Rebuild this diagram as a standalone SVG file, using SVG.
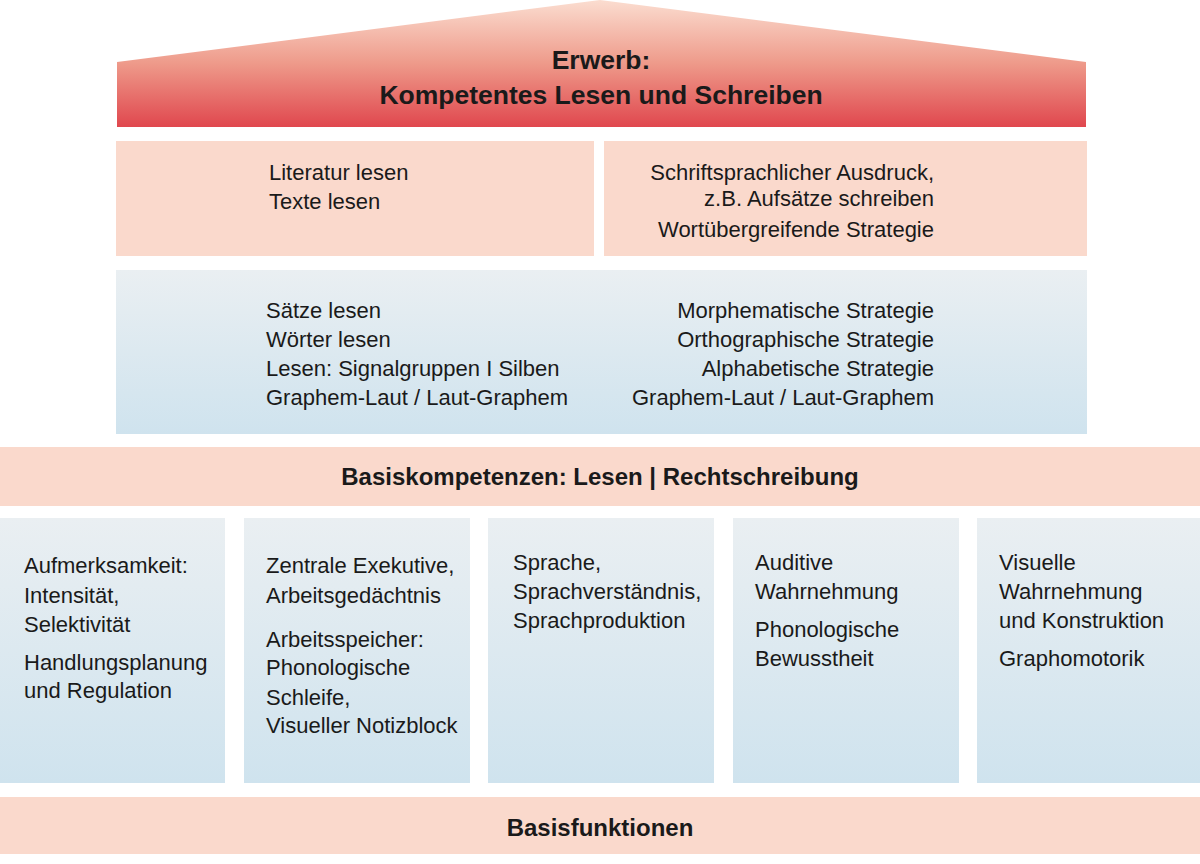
<svg xmlns="http://www.w3.org/2000/svg" width="1200" height="864" viewBox="0 0 1200 864">
<defs>
<linearGradient id="roofGrad" x1="0" y1="0" x2="0" y2="1">
<stop offset="0" stop-color="#FBDDD0"/>
<stop offset="0.5" stop-color="#EE9A8A"/>
<stop offset="1" stop-color="#E0474E"/>
</linearGradient>
<linearGradient id="blueGrad" x1="0" y1="0" x2="0" y2="1">
<stop offset="0" stop-color="#EAEFF2"/>
<stop offset="1" stop-color="#CFE3EE"/>
</linearGradient>
<style>
.peach{fill:#FAD9CC}
.blue{fill:url(#blueGrad)}
text{font-family:"Liberation Sans","Arial",sans-serif;fill:#1a1a1a}
.t{font-size:22px}
.r{text-anchor:end}
.h{font-size:24px;font-weight:bold;text-anchor:middle}
.title{font-size:26.5px;font-weight:bold;text-anchor:middle}
</style>
</defs>
<rect width="1200" height="864" fill="#ffffff"/>
<g id="roof">
<polygon points="117,62 600,0 1086,62 1086,127 117,127" fill="url(#roofGrad)"/>
<text class="title" x="601" y="69">Erwerb:</text>
<text class="title" x="601" y="104">Kompetentes Lesen und Schreiben</text>
</g>
<g id="lesen-oben">
<rect class="peach" x="116" y="141" width="478" height="115"/>
<text class="t" x="269" y="180">Literatur lesen</text>
<text class="t" x="269" y="209">Texte lesen</text>
</g>
<g id="schreiben-oben">
<rect class="peach" x="604" y="141" width="483" height="115"/>
<text class="t r" x="934" y="180">Schriftsprachlicher Ausdruck,</text>
<text class="t r" x="934" y="206">z.B. Aufsätze schreiben</text>
<text class="t r" x="934" y="237">Wortübergreifende Strategie</text>
</g>
<g id="strategien">
<rect class="blue" x="116" y="270" width="971" height="164"/>
<text class="t" x="266" y="318">Sätze lesen</text>
<text class="t" x="266" y="347">Wörter lesen</text>
<text class="t" x="266" y="376">Lesen: Signalgruppen I Silben</text>
<text class="t" x="266" y="405">Graphem-Laut / Laut-Graphem</text>
<text class="t r" x="934" y="318">Morphematische Strategie</text>
<text class="t r" x="934" y="347">Orthographische Strategie</text>
<text class="t r" x="934" y="376">Alphabetische Strategie</text>
<text class="t r" x="934" y="405">Graphem-Laut / Laut-Graphem</text>
</g>
<g id="basiskompetenzen">
<rect class="peach" x="0" y="447" width="1200" height="59"/>
<text class="h" x="600" y="485">Basiskompetenzen: Lesen | Rechtschreibung</text>
</g>
<g id="aufmerksamkeit">
<rect class="blue" x="0" y="518" width="225" height="265"/>
<text class="t" x="24" y="573">Aufmerksamkeit:</text>
<text class="t" x="24" y="603">Intensität,</text>
<text class="t" x="24" y="632">Selektivität</text>
<text class="t" x="24" y="670">Handlungsplanung</text>
<text class="t" x="24" y="698">und Regulation</text>
</g>
<g id="arbeitsgedaechtnis">
<rect class="blue" x="244" y="518" width="226" height="265"/>
<text class="t" x="266" y="573">Zentrale Exekutive,</text>
<text class="t" x="266" y="603">Arbeitsgedächtnis</text>
<text class="t" x="266" y="647">Arbeitsspeicher:</text>
<text class="t" x="266" y="675">Phonologische</text>
<text class="t" x="266" y="705">Schleife,</text>
<text class="t" x="266" y="733">Visueller Notizblock</text>
</g>
<g id="sprache">
<rect class="blue" x="488" y="518" width="226" height="265"/>
<text class="t" x="513" y="570">Sprache,</text>
<text class="t" x="513" y="599">Sprachverständnis,</text>
<text class="t" x="513" y="628">Sprachproduktion</text>
</g>
<g id="auditiv">
<rect class="blue" x="733" y="518" width="226" height="265"/>
<text class="t" x="755" y="570">Auditive</text>
<text class="t" x="755" y="599">Wahrnehmung</text>
<text class="t" x="755" y="637">Phonologische</text>
<text class="t" x="755" y="666">Bewusstheit</text>
</g>
<g id="visuell">
<rect class="blue" x="977" y="518" width="223" height="265"/>
<text class="t" x="999" y="570">Visuelle</text>
<text class="t" x="999" y="599">Wahrnehmung</text>
<text class="t" x="999" y="628">und Konstruktion</text>
<text class="t" x="999" y="666">Graphomotorik</text>
</g>
<g id="basisfunktionen">
<rect class="peach" x="0" y="797" width="1200" height="57"/>
<text class="h" x="600" y="836">Basisfunktionen</text>
</g>
<g id="connectors"/>
</svg>
